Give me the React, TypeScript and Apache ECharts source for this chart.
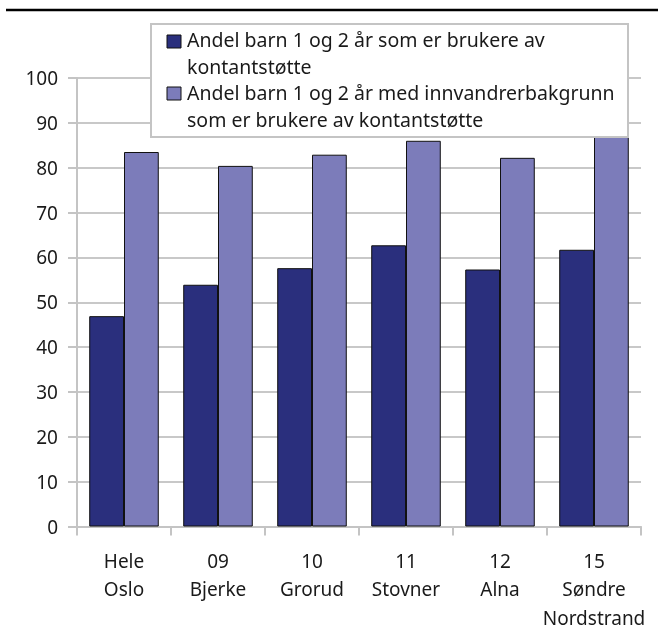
import React, { useEffect, useRef } from "react";
import * as echarts from "echarts";

const categories = ["Hele\nOslo", "09\nBjerke", "10\nGrorud", "11\nStovner", "12\nAlna", "15\nSøndre\nNordstrand"];
const seriesNames = [
  "Andel barn 1 og 2 år som er brukere av\nkontantstøtte",
  "Andel barn 1 og 2 år med innvandrerbakgrunn\nsom er brukere av kontantstøtte",
];
const allChildren = [46.9, 53.9, 57.6, 62.7, 57.3, 61.7];
const immigrantChildren = [83.5, 80.4, 82.9, 86.0, 82.2, 88.0];
const yTicks = [0, 10, 20, 30, 40, 50, 60, 70, 80, 90, 100];

const colors = ["#2a2f7d", "#7c7cba"];
const FONT = "'Noto Sans', sans-serif";

export default function App() {
  const ref = useRef<HTMLDivElement>(null);
  useEffect(() => {
    if (!ref.current) return;
    const chart = echarts.init(ref.current, null, { renderer: "svg" });
    const gray = "#c4c4c4";
    const LX = 151;
    const LY = 24;
    chart.setOption({
      animation: false,
      textStyle: { fontFamily: FONT },
      grid: { left: 77, right: 17, top: 78, bottom: 99, containLabel: false },
      xAxis: {
        type: "category",
        data: categories,
        axisLine: { show: true, lineStyle: { color: gray, width: 2 } },
        axisTick: { show: true, length: 9, lineStyle: { color: gray, width: 2 } },
        axisLabel: { fontSize: 19, color: "#1a1a1a", lineHeight: 28.5, margin: 20, interval: 0, fontFamily: FONT },
        splitLine: { show: false },
      },
      yAxis: {
        type: "value",
        min: yTicks[0],
        max: yTicks[yTicks.length - 1],
        interval: 10,
        axisLine: { show: true, lineStyle: { color: gray, width: 2 } },
        axisTick: { show: true, length: 9, lineStyle: { color: gray, width: 2 } },
        axisLabel: { fontSize: 19, color: "#1a1a1a", margin: 19, fontFamily: FONT },
        splitLine: { show: true, lineStyle: { color: "#c8c8c8", width: 2 } },
      },
      legend: { show: false },
      series: [
        {
          name: seriesNames[0],
          type: "bar",
          data: allChildren,
          barGap: "0%",
          barCategoryGap: "26%",
          itemStyle: { color: colors[0], borderColor: "#111", borderWidth: 1 },
        },
        {
          name: seriesNames[1],
          type: "bar",
          data: immigrantChildren,
          barGap: "0%",
          barCategoryGap: "26%",
          itemStyle: { color: colors[1], borderColor: "#111", borderWidth: 1 },
        },
      ],
      graphic: {
        elements: [
          {
            type: "line",
            z: 100,
            shape: { x1: 6, y1: 10, x2: 658, y2: 10 },
            style: { stroke: "#000", lineWidth: 2.5 },
          },
          {
            type: "rect",
            z: 100,
            shape: { x: LX, y: LY, width: 477, height: 113 },
            style: { fill: "#fff", stroke: "#c4c4c4", lineWidth: 2 },
          },
          {
            type: "rect",
            z: 101,
            shape: { x: LX + 16, y: LY + 11, width: 14, height: 13 },
            style: { fill: colors[0], stroke: "#111", lineWidth: 1 },
          },
          {
            type: "text",
            z: 101,
            x: LX + 36,
            y: LY + 2,
            style: { text: seriesNames[0], font: `19.5px ${FONT}`, fill: "#1a1a1a", lineHeight: 27 },
          },
          {
            type: "rect",
            z: 101,
            shape: { x: LX + 16, y: LY + 63, width: 14, height: 13 },
            style: { fill: colors[1], stroke: "#111", lineWidth: 1 },
          },
          {
            type: "text",
            z: 101,
            x: LX + 36,
            y: LY + 55,
            style: { text: seriesNames[1], font: `19.5px ${FONT}`, fill: "#1a1a1a", lineHeight: 27 },
          },
        ],
      },
    });
    return () => chart.dispose();
  }, []);
  return (
    <div
      ref={ref}
      style={{ position: "fixed", left: 0, top: 0, width: 658, height: 632 }}
    />
  );
}
